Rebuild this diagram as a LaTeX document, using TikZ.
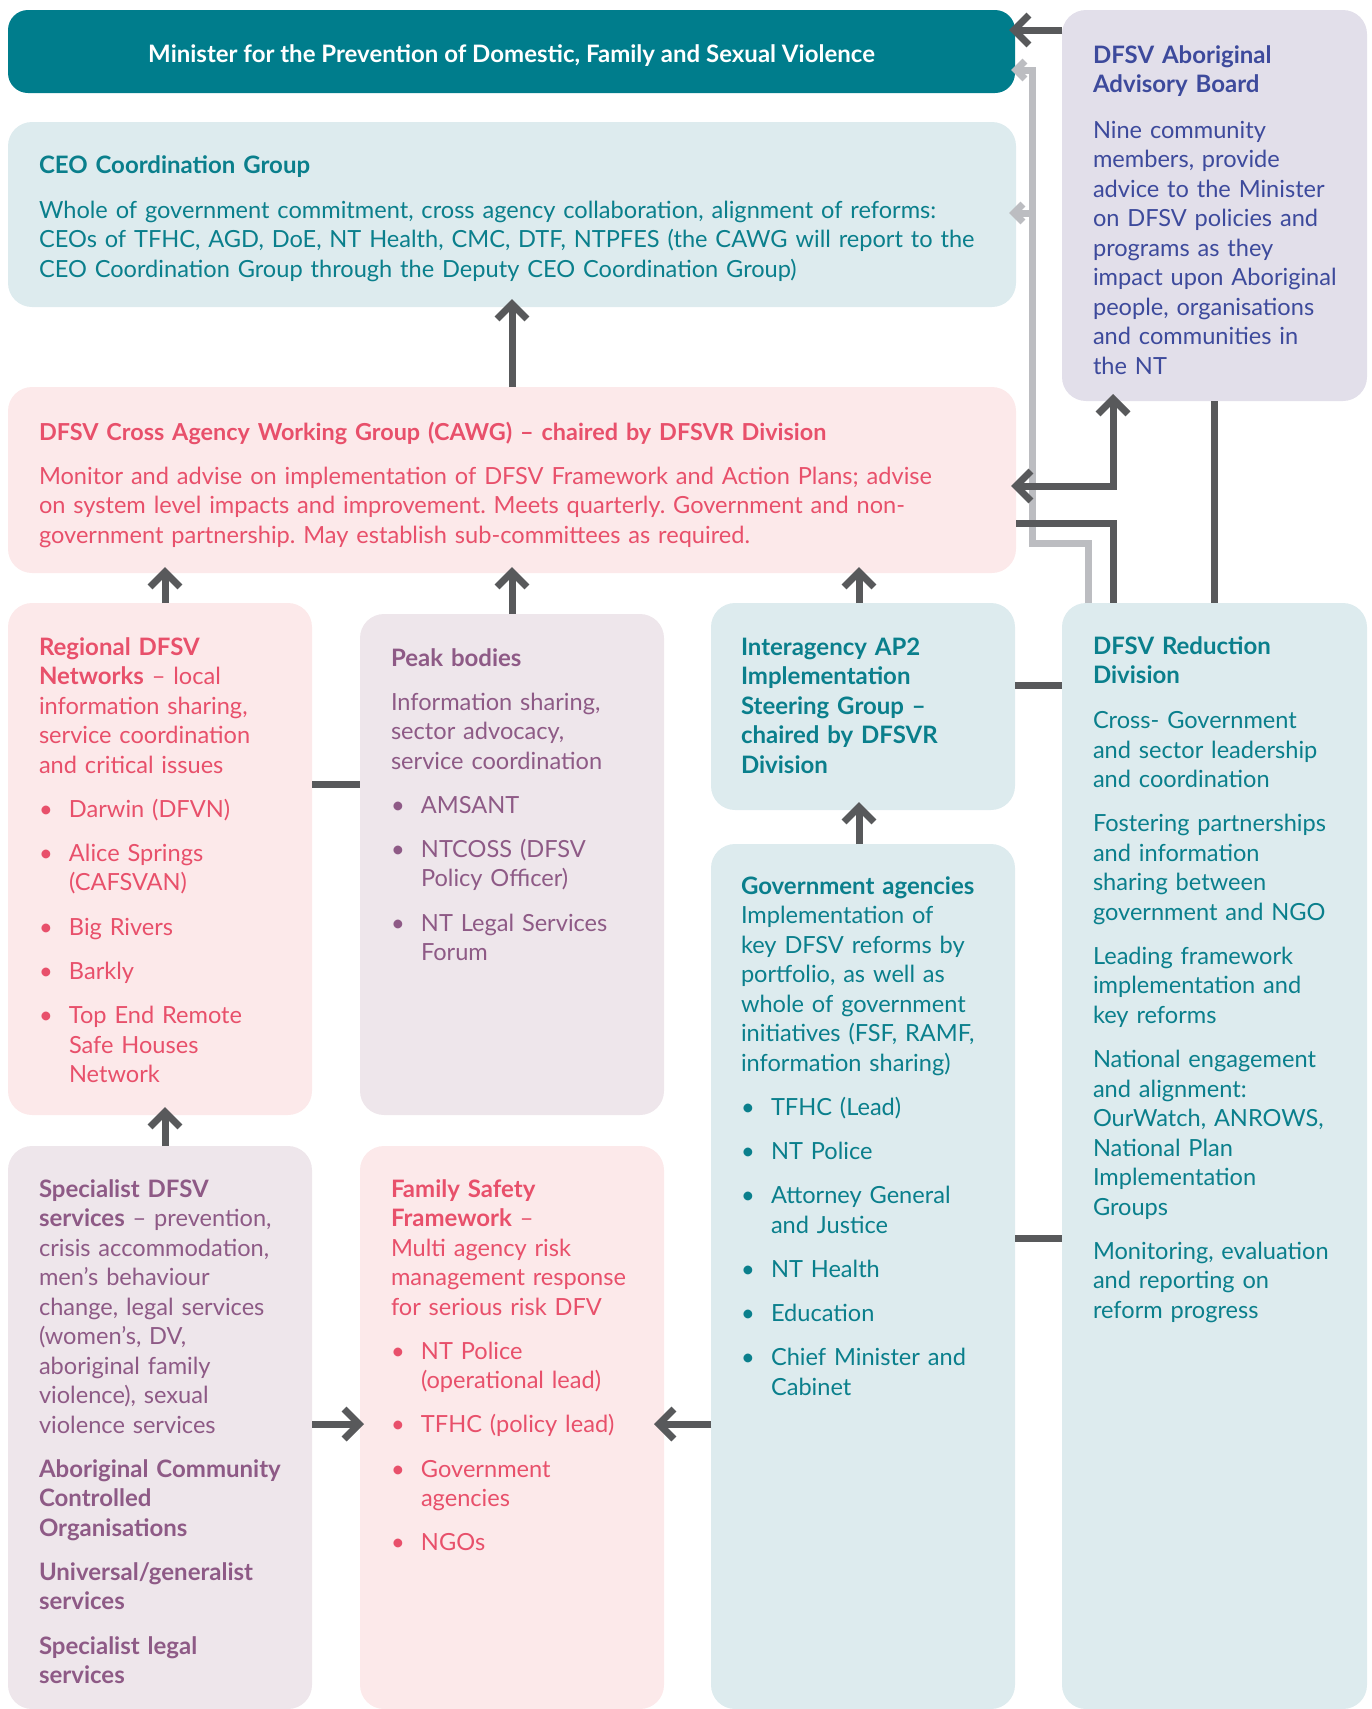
\documentclass[tikz,border=0pt]{standalone}
\usepackage{fontspec}
\setmainfont{Lato}
\usetikzlibrary{arrows.meta}
\definecolor{cteal}{HTML}{007D8C}
\definecolor{fblue}{HTML}{DDEBEE}
\definecolor{fpink}{HTML}{FCE9EA}
\definecolor{flav}{HTML}{E2DFEA}
\definecolor{fmauve}{HTML}{EEE6EB}
\definecolor{tteal}{HTML}{0A7F8C}
\definecolor{tpink}{HTML}{E8506B}
\definecolor{tind}{HTML}{3D4A9C}
\definecolor{tmauve}{HTML}{8E5A86}
\definecolor{dgrey}{HTML}{58595B}
\definecolor{lgrey}{HTML}{BCBDC1}
\newcommand{\myb}{\makebox[30pt][l]{\textbullet}}
\newcommand{\myc}{\hspace*{30pt}}
\newcommand{\tb}[1]{{\fontsize{24}{29.5}\selectfont\bfseries #1}}
\frenchspacing
\begin{document}
\begin{tikzpicture}[x=1pt,y=-1pt,
  box/.style={rounded corners=24pt, inner sep=0pt, outer sep=0pt, anchor=north west},
  txt/.style={anchor=base west, inner sep=0pt, outer sep=0pt, align=left, text width=#1, font=\fontsize{23.6}{29.5}\selectfont\frenchspacing},
  conn/.style={line width=7pt, draw=dgrey},
  arr/.style={conn, -{Straight Barb[length=15pt,width=30pt]}, shorten >=-6pt},
  garr/.style={line width=7pt, draw=lgrey, -{Straight Barb[length=9pt,width=18pt]}, shorten >=-4pt},
]
\useasboundingbox (0,0) rectangle (1372,1709);
% boxes
\node[box, fill=cteal, minimum width=1007pt, minimum height=83pt, rounded corners=20pt] (min) at (8,10) {};
\node[box, fill=flav, minimum width=305pt, minimum height=391pt] (board) at (1062,10) {};
\node[box, fill=fblue, minimum width=1008pt, minimum height=185pt] (ceo) at (8,122) {};
\node[box, fill=fpink, minimum width=1008pt, minimum height=186pt] (cawg) at (8,387) {};
\node[box, fill=fpink, minimum width=304pt, minimum height=512pt] (reg) at (8,603) {};
\node[box, fill=fmauve, minimum width=304pt, minimum height=501pt] (peak) at (360,614) {};
\node[box, fill=fblue, minimum width=304pt, minimum height=207pt] (inter) at (711,603) {};
\node[box, fill=fblue, minimum width=305pt, minimum height=1106pt] (red) at (1062,603) {};
\node[box, fill=fblue, minimum width=304pt, minimum height=865pt] (gov) at (711,844) {};
\node[box, fill=fmauve, minimum width=304pt, minimum height=563pt] (spec) at (8,1146) {};
\node[box, fill=fpink, minimum width=304pt, minimum height=563pt] (fam) at (360,1146) {};

% texts
\node[text=white, font=\bfseries\fontsize{24}{28}\selectfont, inner sep=0pt] (mint) at ([yshift=-4pt]min.center) {Minister for the Prevention of Domestic, Family and Sexual Violence};
\node[txt=300pt, text=tind] (boardt) at (1093,63) {\tb{DFSV Aboriginal}\\\tb{Advisory Board}\\[16pt]
Nine community\\members, provide\\advice to the Minister\\on DFSV policies and\\programs as they\\impact upon Aboriginal\\people, organisations\\and communities in\\the NT};
\node[txt=980pt, text=tteal] (ceot) at (39,173) {\tb{CEO Coordination Group}\\[15.5pt]
Whole of government commitment, cross agency collaboration, alignment of reforms:\\CEOs of TFHC, AGD, DoE, NT Health, CMC, DTF, NTPFES (the CAWG will report to the\\CEO Coordination Group through the Deputy CEO Coordination Group)};
\node[txt=980pt, text=tpink] (cawgt) at (39,440) {{\fontsize{23.4}{29.5}\selectfont\bfseries DFSV Cross Agency Working Group (CAWG) – chaired by DFSVR Division}\\[14.5pt]
Monitor and advise on implementation of DFSV Framework and Action Plans; advise\\on system level impacts and improvement. Meets quarterly. Government and non-\\government partnership. May establish sub-committees as required.};
\node[txt=300pt, text=tpink] (regt) at (39,655) {\tb{Regional DFSV}\\\tb{Networks} – local\\information sharing,\\service coordination\\and critical issues\\[14.7pt]
\myb Darwin (DFVN)\\[14.7pt]
\myb Alice Springs\\\myc(CAFSVAN)\\[14.7pt]
\myb Big Rivers\\[14.7pt]
\myb Barkly\\[14.7pt]
\myb Top End Remote\\\myc Safe Houses\\\myc Network};
\node[txt=300pt, text=tmauve] (peakt) at (391,666) {\tb{Peak bodies}\\[14.5pt]
Information sharing,\\sector advocacy,\\service coordination\\[14.7pt]
\myb AMSANT\\[14.7pt]
\myb NTCOSS (DFSV\\\myc Policy Officer)\\[14.7pt]
\myb NT Legal Services\\\myc Forum};
\node[txt=300pt, text=tteal] (intert) at (741,655) {\tb{Interagency AP2}\\\tb{Implementation}\\\tb{Steering Group –}\\\tb{chaired by DFSVR}\\\tb{Division}};
\node[txt=300pt, text=tteal] (govt) at (741,894) {\tb{Government agencies}\\Implementation of\\key DFSV reforms by\\portfolio, as well as\\whole of government\\initiatives (FSF, RAMF,\\information sharing)\\[14.7pt]
\myb TFHC (Lead)\\[14.7pt]
\myb NT Police\\[14.7pt]
\myb Attorney General\\\myc and Justice\\[14.7pt]
\myb NT Health\\[14.7pt]
\myb Education\\[14.7pt]
\myb Chief Minister and\\\myc Cabinet};
\node[txt=300pt, text=tteal] (redt) at (1093,654) {\tb{DFSV Reduction}\\\tb{Division}\\[15.5pt]
Cross- Government\\and sector leadership\\and coordination\\[14.7pt]
Fostering partnerships\\and information\\sharing between\\government and NGO\\[14.7pt]
Leading framework\\implementation and\\key reforms\\[14.7pt]
National engagement\\and alignment:\\OurWatch, ANROWS,\\National Plan\\Implementation\\Groups\\[14.7pt]
Monitoring, evaluation\\and reporting on\\reform progress};
\node[txt=300pt, text=tmauve] (spect) at (39,1197) {\tb{Specialist DFSV}\\\tb{services} – prevention,\\crisis accommodation,\\men’s behaviour\\change, legal services\\(women’s, DV,\\aboriginal family\\violence), sexual\\violence services\\[14.7pt]
\tb{Aboriginal Community}\\\tb{Controlled}\\\tb{Organisations}\\[14.7pt]
\tb{Universal/generalist}\\\tb{services}\\[14.7pt]
\tb{Specialist legal}\\\tb{services}};
\node[txt=300pt, text=tpink] (famt) at (391,1197) {\tb{Family Safety}\\\tb{Framework} –\\Multi agency risk\\management response\\for serious risk DFV\\[14.7pt]
\myb NT Police\\\myc(operational lead)\\[14.7pt]
\myb TFHC (policy lead)\\[14.7pt]
\myb Government\\\myc agencies\\[14.7pt]
\myb NGOs};

% grey connectors
\coordinate (g1) at (1088,543);
\coordinate (g2) at (1032,543);
\coordinate (g3) at (1032,70);
\coordinate (g4) at (1032,213);
\draw[garr] (red.north -| g1) -- (g1) -- (g2) -- (g3) -- (g3 -| min.east);
\draw[garr, shorten >=-7pt] (g4) -- (g4 -| ceo.east);

% dark connectors
\coordinate (b0) at (1062,30);
\draw[arr] (b0) -- (b0 -| min.east);
\coordinate (b1) at (1113,486);
\draw[conn, {Straight Barb[length=15pt,width=30pt]}-{Straight Barb[length=15pt,width=30pt]}, shorten <=-5pt, shorten >=-7pt] (b1 -| cawg.east) -- (b1) -- (b1 |- board.south);
\coordinate (b2) at (1113,523);
\draw[conn] (b2 -| cawg.east) -- (b2) -- (b2 |- red.north);
\coordinate (b3) at (1214,500);
\draw[conn] (b3 |- board.south) -- (b3 |- red.north);
\coordinate (h1) at (1040,685);
\draw[conn] (h1 -| inter.east) -- (h1 -| red.west);
\coordinate (h2) at (1040,1238);
\draw[conn] (h2 -| gov.east) -- (h2 -| red.west);
\coordinate (h3) at (336,784);
\draw[conn] (h3 -| reg.east) -- (h3 -| peak.west);

\coordinate (v1) at (165,590);
\coordinate (v2) at (512,590);
\coordinate (v3) at (859,590);
\draw[arr] (v1 |- reg.north) -- (v1 |- cawg.south);
\draw[arr] (v2 |- peak.north) -- (v2 |- cawg.south);
\draw[arr] (v3 |- inter.north) -- (v3 |- cawg.south);
\draw[arr, shorten >=-8pt] (v2 |- cawg.north) -- (v2 |- ceo.south);
\draw[arr, shorten >=-8pt] (v1 |- spec.north) -- (v1 |- reg.south);
\draw[arr, shorten >=-8pt] (v3 |- gov.north) -- (v3 |- inter.south);
\coordinate (h4) at (340,1424);
\draw[arr, shorten >=-4pt] (h4 -| spec.east) -- (h4 -| fam.west);
\draw[arr, shorten >=-10pt] (h4 -| gov.west) -- (h4 -| fam.east);
\end{tikzpicture}
\end{document}
